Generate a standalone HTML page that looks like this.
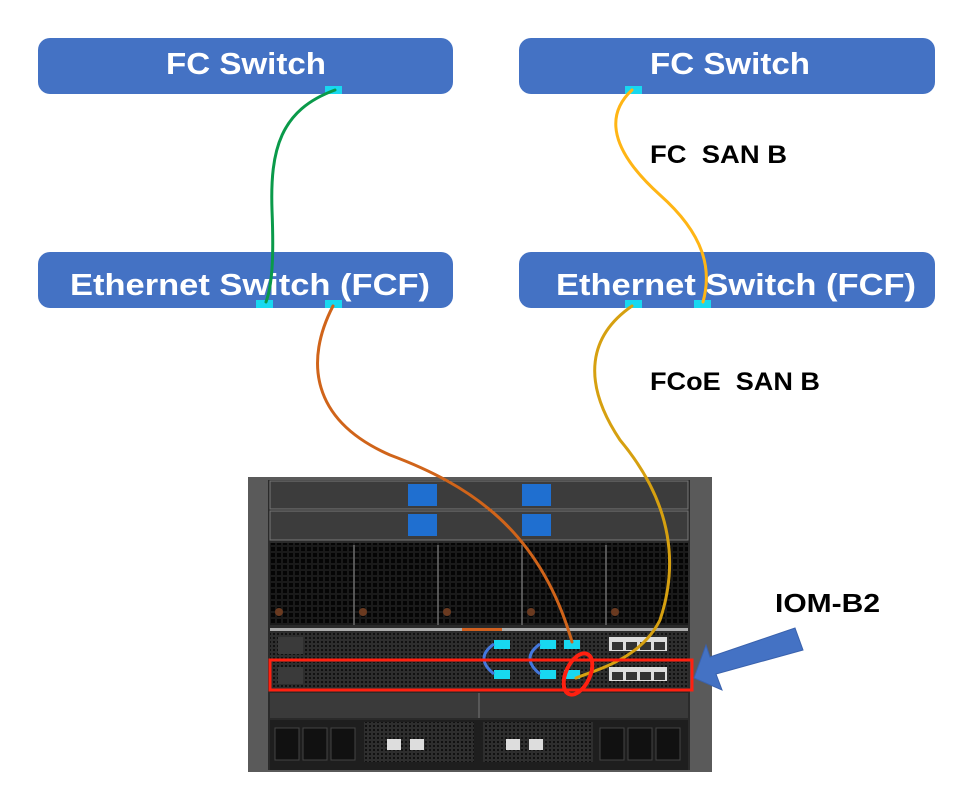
<!DOCTYPE html>
<html><head><meta charset="utf-8"><style>
html,body{margin:0;padding:0;background:#fff;}
svg{display:block}
text{font-family:"Liberation Sans",sans-serif;font-weight:bold}
</style></head><body>
<svg width="963" height="800" viewBox="0 0 963 800" xmlns="http://www.w3.org/2000/svg">
<defs>
<pattern id="grid" width="6" height="6" patternUnits="userSpaceOnUse">
<rect width="6" height="6" fill="#1a1a1a"/><rect x="1" y="1" width="4" height="4" fill="#050505"/>
</pattern>
<pattern id="dots" width="4" height="4" patternUnits="userSpaceOnUse">
<rect width="4" height="4" fill="#2e2e2e"/><rect x="1" y="1" width="2" height="2" fill="#111"/>
</pattern>
</defs>
<rect x="38" y="38" width="415" height="56" rx="12" fill="#4472c4"/>
<rect x="519" y="38" width="416" height="56" rx="12" fill="#4472c4"/>
<rect x="38" y="252" width="415" height="56" rx="12" fill="#4472c4"/>
<rect x="519" y="252" width="416" height="56" rx="12" fill="#4472c4"/>
<text x="166" y="74" font-size="31" fill="#fff" textLength="160" lengthAdjust="spacingAndGlyphs">FC Switch</text>
<text x="650" y="74" font-size="31" fill="#fff" textLength="160" lengthAdjust="spacingAndGlyphs">FC Switch</text>
<text x="70" y="295" font-size="31" fill="#fff" textLength="360" lengthAdjust="spacingAndGlyphs">Ethernet Switch (FCF)</text>
<text x="556" y="295" font-size="31" fill="#fff" textLength="360" lengthAdjust="spacingAndGlyphs">Ethernet Switch (FCF)</text>
<rect x="325" y="86" width="17" height="8" fill="#18d8f0"/>
<rect x="625" y="86" width="17" height="8" fill="#18d8f0"/>
<rect x="256" y="300" width="17" height="8" fill="#18d8f0"/>
<rect x="325" y="300" width="17" height="8" fill="#18d8f0"/>
<rect x="625" y="300" width="17" height="8" fill="#18d8f0"/>
<rect x="694" y="300" width="17" height="8" fill="#18d8f0"/>
<text x="650" y="163" font-size="25" fill="#000" textLength="137" lengthAdjust="spacingAndGlyphs">FC&#160;&#160;SAN B</text>
<text x="650" y="390" font-size="25" fill="#000" textLength="170" lengthAdjust="spacingAndGlyphs">FCoE&#160;&#160;SAN B</text>
<text x="775" y="612" font-size="26" fill="#000" textLength="105" lengthAdjust="spacingAndGlyphs">IOM-B2</text>
<rect x="248" y="477" width="464" height="295" fill="#5a5a5a"/>
<rect x="268" y="480" width="422" height="290" fill="#2a2a2a"/>
<rect x="270" y="481" width="418" height="28" fill="#3c3c3c" stroke="#777" stroke-width="1"/>
<rect x="270" y="511" width="418" height="29" fill="#3c3c3c" stroke="#777" stroke-width="1"/>
<rect x="408" y="484" width="29" height="22" fill="#1f6fd0"/>
<rect x="522" y="484" width="29" height="22" fill="#1f6fd0"/>
<rect x="408" y="514" width="29" height="22" fill="#1f6fd0"/>
<rect x="522" y="514" width="29" height="22" fill="#1f6fd0"/>
<rect x="270" y="543" width="418" height="82" fill="url(#grid)"/>
<g stroke="#555" stroke-width="2"><line x1="354" y1="545" x2="354" y2="625"/><line x1="438" y1="545" x2="438" y2="625"/><line x1="522" y1="545" x2="522" y2="625"/><line x1="606" y1="545" x2="606" y2="625"/></g>
<g fill="#6a3a20"><circle cx="279" cy="612" r="4"/><circle cx="363" cy="612" r="4"/><circle cx="447" cy="612" r="4"/><circle cx="531" cy="612" r="4"/><circle cx="615" cy="612" r="4"/></g>
<rect x="270" y="628" width="418" height="3" fill="#aaa"/>
<rect x="462" y="628" width="40" height="3" fill="#d06020"/>
<rect x="270" y="632" width="418" height="27" fill="url(#dots)"/>
<rect x="270" y="662" width="418" height="28" fill="url(#dots)"/>
<rect x="278" y="637" width="25" height="17" fill="#3a3a3a"/>
<rect x="278" y="667" width="25" height="17" fill="#3a3a3a"/>
<g fill="#18d8f0"><rect x="494" y="640" width="16" height="9"/><rect x="540" y="640" width="16" height="9"/><rect x="564" y="640" width="16" height="9"/><rect x="494" y="670" width="16" height="9"/><rect x="540" y="670" width="16" height="9"/><rect x="564" y="670" width="16" height="9"/></g>
<g fill="none" stroke="#4477dd" stroke-width="3"><path d="M494 644 Q474 658 494 674"/><path d="M540 644 Q520 658 540 674"/></g>
<g fill="#ddd"><rect x="609" y="637" width="58" height="14"/><rect x="609" y="667" width="58" height="14"/></g>
<g fill="#333"><rect x="612" y="642" width="11" height="8"/><rect x="626" y="642" width="11" height="8"/><rect x="640" y="642" width="11" height="8"/><rect x="654" y="642" width="11" height="8"/><rect x="612" y="672" width="11" height="8"/><rect x="626" y="672" width="11" height="8"/><rect x="640" y="672" width="11" height="8"/><rect x="654" y="672" width="11" height="8"/></g>
<rect x="270" y="693" width="418" height="25" fill="#3a3a3a"/>
<line x1="479" y1="693" x2="479" y2="718" stroke="#777"/>
<rect x="270" y="720" width="418" height="50" fill="#1e1e1e"/>
<g fill="#111" stroke="#444"><rect x="275" y="728" width="24" height="32"/><rect x="303" y="728" width="24" height="32"/><rect x="331" y="728" width="24" height="32"/><rect x="600" y="728" width="24" height="32"/><rect x="628" y="728" width="24" height="32"/><rect x="656" y="728" width="24" height="32"/></g>
<rect x="364" y="722" width="110" height="40" fill="url(#dots)"/>
<rect x="483" y="722" width="110" height="40" fill="url(#dots)"/>
<g fill="#ddd"><rect x="387" y="739" width="14" height="11"/><rect x="410" y="739" width="14" height="11"/><rect x="506" y="739" width="14" height="11"/><rect x="529" y="739" width="14" height="11"/></g>
<g fill="none" stroke-linecap="round">
<path d="M335 90 C280 110 270 150 272 210 C274 260 272 285 266 302" stroke="#0a9a4a" stroke-width="3"/>
<path d="M333 306 C305 360 310 420 390 455 C470 485 540 530 572 642" stroke="#d0641a" stroke-width="3"/>
<path d="M632 90 C605 115 610 150 660 195 C705 235 712 270 703 302" stroke="#ffb515" stroke-width="3"/>
<path d="M632 306 C590 335 580 380 620 440 C670 500 680 560 660 620 C640 660 595 670 576 678" stroke="#d6a010" stroke-width="3"/>
</g>
<rect x="270" y="660" width="422" height="30" fill="none" stroke="#ff2010" stroke-width="3"/>
<ellipse cx="578" cy="674" rx="12" ry="22" transform="rotate(25 578 674)" fill="none" stroke="#ff2010" stroke-width="4"/>
<polygon points="694,678 706,645 710,657 795,628 803,650 716,674 722,690" fill="#4472c4" stroke="#3a62ad" stroke-width="1"/>
</svg>
</body></html>
